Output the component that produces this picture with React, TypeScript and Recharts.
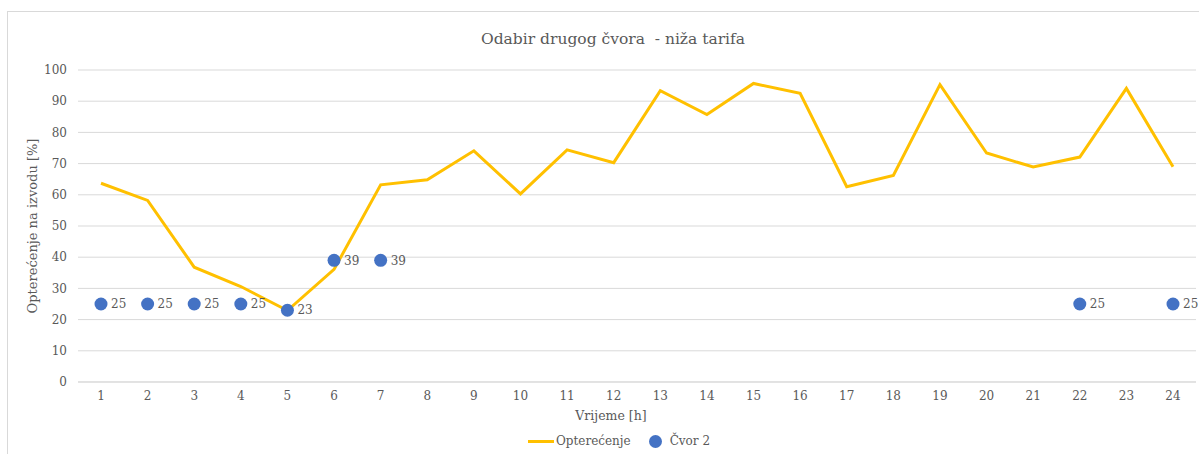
import React from 'react'
import { ComposedChart, Line, XAxis, YAxis, CartesianGrid, LabelList } from 'recharts'

const hours = [1, 2, 3, 4, 5, 6, 7, 8, 9, 10, 11, 12, 13, 14, 15, 16, 17, 18, 19, 20, 21, 22, 23, 24]
const opterecenje = [63.7, 58.2, 36.8, 30.6, 22.9, 36.1, 63.2, 64.8, 74.1, 60.3, 74.4, 70.3, 93.4, 85.7, 95.7, 92.5, 62.6, 66.2, 95.3, 73.4, 68.9, 72.1, 94.1, 69.0]
const cvor2 = [25, 25, 25, 25, 23, 39, 39, null, null, null, null, null, null, null, null, null, null, null, null, null, null, 25, null, 25]
const yTicks = [0, 10, 20, 30, 40, 50, 60, 70, 80, 90, 100]

const data = hours.map((h, i) => ({ h, opt: opterecenje[i], cvor: cvor2[i] }))

const FONT = '"DejaVu Serif", serif'
const TEXT = '#595959'
const LINE = '#FFC000'
const DOT = '#4472C4'

// data label to the right of each blue dot
const DotLabel = (props: any) => {
  const { x, y, value } = props
  if (value == null || x == null || y == null) return null
  return (
    <text x={x + 10} y={y} dy="0.35em" fill={TEXT} fontSize={12} fontFamily={FONT}>
      {value}
    </text>
  )
}

export default function App() {
  return (
    <div style={{ position: 'absolute', left: 0, top: 0, width: 1199, height: 454, overflow: 'hidden', background: '#fff', fontFamily: FONT }}>
      {/* chart frame, cut off on the right and bottom */}
      <div style={{ position: 'absolute', left: 7, top: 11, width: 1230, height: 470, border: '1px solid #d9d9d9' }} />
      <div style={{ position: 'absolute', left: 0, top: 30, width: 1226, textAlign: 'center', fontSize: 15.5, color: TEXT }}>
        Odabir drugog čvora&nbsp; - niža tarifa
      </div>
      <div style={{ position: 'absolute', left: 0, top: 0 }}>
        <ComposedChart width={1199} height={454} data={data} margin={{ top: 70, right: 3, bottom: 42, left: 0 }}>
          <CartesianGrid vertical={false} stroke="#d9d9d9" strokeWidth={1} />
          <XAxis
            dataKey="h"
            height={30}
            padding={{ left: 23, right: 23 }}
            tickLine={false}
            axisLine={{ stroke: '#d9d9d9' }}
            tickSize={0}
            tickMargin={9}
            tick={{ fill: TEXT, fontSize: 12, fontFamily: FONT }}
            interval={0}
          />
          <YAxis
            width={78}
            domain={[0, 100]}
            ticks={yTicks}
            tickLine={false}
            axisLine={false}
            tickSize={0}
            tickMargin={11}
            tick={{ fill: TEXT, fontSize: 12, fontFamily: FONT }}
          />
          <Line
            type="linear"
            dataKey="opt"
            stroke={LINE}
            strokeWidth={3}
            dot={false}
            isAnimationActive={false}
          />
          <Line
            type="linear"
            dataKey="cvor"
            stroke="none"
            dot={{ r: 6.5, fill: DOT, stroke: DOT, strokeWidth: 0 }}
            isAnimationActive={false}
          >
            <LabelList dataKey="cvor" content={<DotLabel />} />
          </Line>
        </ComposedChart>
      </div>
      <div
        style={{
          position: 'absolute', left: 32, top: 226, transform: 'translate(-50%, -50%) rotate(-90deg)',
          whiteSpace: 'nowrap', fontSize: 13, color: TEXT,
        }}
      >
        Opterećenje na izvodu [%]
      </div>
      <div style={{ position: 'absolute', left: 0, top: 408, width: 1222, textAlign: 'center', fontSize: 12.5, color: TEXT }}>
        Vrijeme [h]
      </div>
      <div style={{ position: 'absolute', left: 528, top: 434, display: 'flex', alignItems: 'center', fontSize: 12, color: TEXT }}>
        <span style={{ display: 'inline-block', width: 26, height: 3, background: LINE }} />
        <span style={{ marginLeft: 2 }}>Opterećenje</span>
        <span style={{ display: 'inline-block', width: 13, height: 13, borderRadius: '50%', background: DOT, marginLeft: 18 }} />
        <span style={{ marginLeft: 8 }}>Čvor 2</span>
      </div>
    </div>
  )
}
